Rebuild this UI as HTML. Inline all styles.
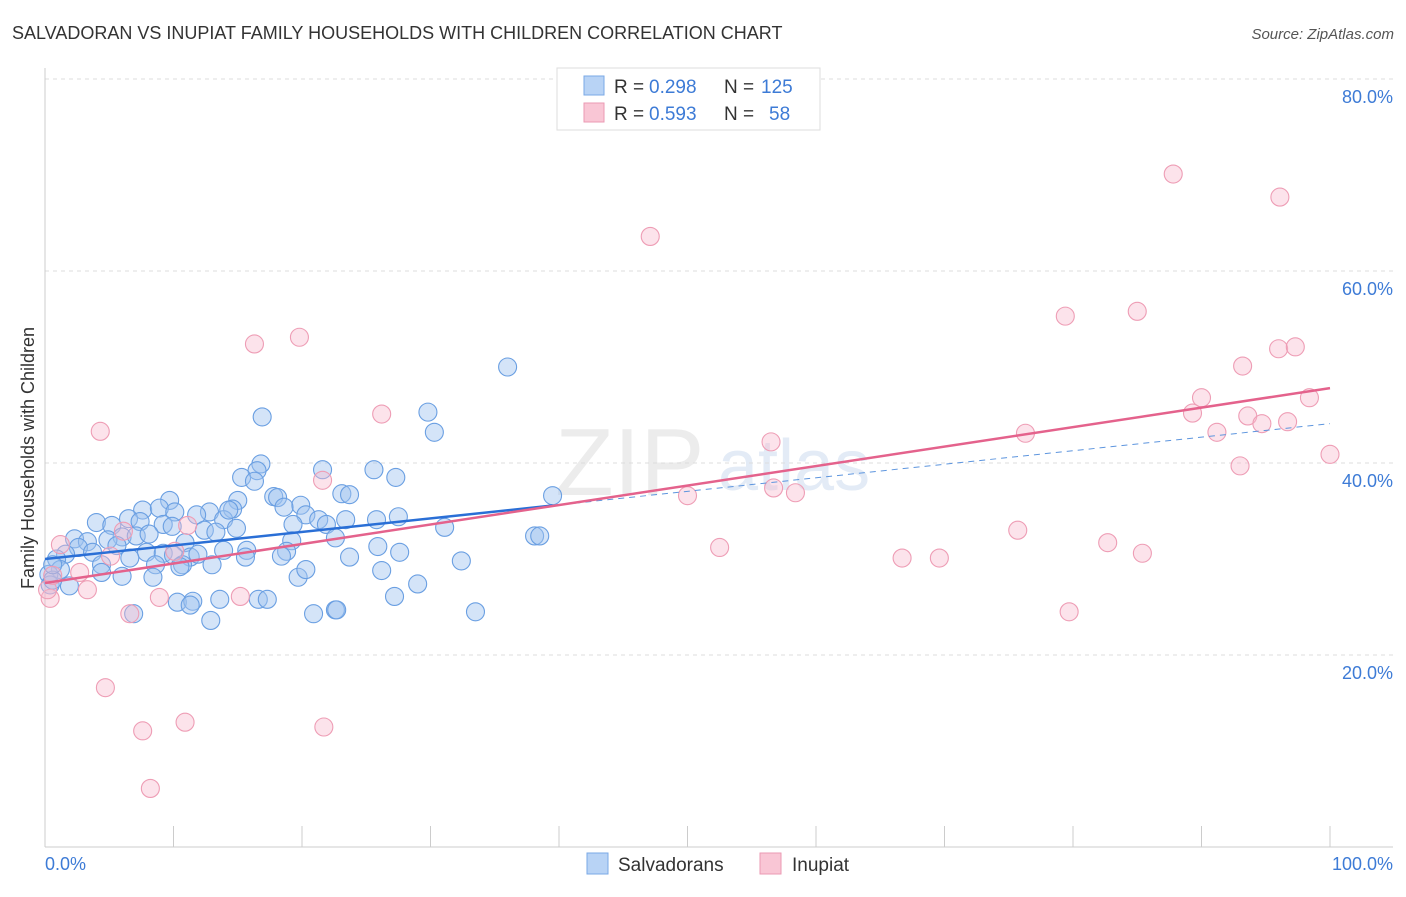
<!DOCTYPE html>
<html><head><meta charset="utf-8"><style>
body{margin:0;background:#fff;font-family:"Liberation Sans",sans-serif}
svg text{font-family:"Liberation Sans",sans-serif}
</style></head><body>
<svg id="chart" width="1406" height="892" viewBox="0 0 1406 892" xmlns="http://www.w3.org/2000/svg">
<text x="12" y="39" font-size="18" fill="#333">SALVADORAN VS INUPIAT FAMILY HOUSEHOLDS WITH CHILDREN CORRELATION CHART</text>
<text x="1394" y="39" font-size="15" fill="#555" font-style="italic" text-anchor="end">Source: ZipAtlas.com</text>
<text x="555" y="495" font-size="96" fill="#ececec" font-family="Liberation Serif">ZIP</text>
<text x="718" y="490" font-size="72" fill="#e3ebf6">atlas</text>
<g id="grid"></g>
<g id="axes"></g>
<g id="pts"></g>
<g id="trends"></g>
<text transform="translate(34,458) rotate(-90)" font-size="18" fill="#333" text-anchor="middle">Family Households with Children</text>
<text x="45" y="870" font-size="18" fill="#3d7bd6">0.0%</text>
<text x="1393" y="870" font-size="18" fill="#3d7bd6" text-anchor="end">100.0%</text>
<g>
<rect x="557" y="68" width="263" height="62" fill="#fff" stroke="#ddd"/>
<rect x="584" y="76" width="20" height="19" fill="#b8d3f5" stroke="#7aa8e6"/>
<rect x="584" y="103" width="20" height="19" fill="#f9c6d5" stroke="#eb9ab3"/>
<text x="614" y="93" font-size="19" fill="#333">R =</text>
<text x="649" y="93" font-size="19" fill="#3d7bd6">0.298</text>
<text x="724" y="93" font-size="19" fill="#333">N =</text>
<text x="761" y="93" font-size="19" fill="#3d7bd6">125</text>
<text x="614" y="120" font-size="19" fill="#333">R =</text>
<text x="649" y="120" font-size="19" fill="#3d7bd6">0.593</text>
<text x="724" y="120" font-size="19" fill="#333">N =</text>
<text x="769" y="120" font-size="19" fill="#3d7bd6">58</text>
</g>
<g>
<rect x="587" y="853" width="21" height="21" fill="#b8d3f5" stroke="#7aa8e6"/>
<text x="618" y="871" font-size="19" fill="#333">Salvadorans</text>
<rect x="760" y="853" width="21" height="21" fill="#f9c6d5" stroke="#eb9ab3"/>
<text x="792" y="871" font-size="19" fill="#333">Inupiat</text>
</g>
</svg>
<script>
const yTicks=[20,40,60,80];
const yTickLabels=["20.0%","40.0%","60.0%","80.0%"];
const xTicks=[0,10,20,30,40,50,60,70,80,90,100];
const blueX=[36.0,16.9,29.8,30.3,16.8,16.5,15.3,21.6,25.6,27.3,16.3,39.5,17.8,18.1,23.1,23.7,19.9,18.6,15.0,9.7,7.6,8.9,10.1,12.8,14.6,20.3,27.5,4.0,5.2,6.5,7.4,9.2,9.9,11.8,13.9,14.3,19.3,21.3,21.9,23.4,25.8,31.1,6.0,7.1,8.1,12.4,13.3,14.9,2.3,3.3,4.9,5.6,10.9,19.2,22.6,38.1,38.5,2.6,3.7,7.9,9.2,10.0,11.3,11.9,13.9,15.7,18.8,25.9,27.6,1.6,0.9,4.4,6.6,8.6,10.7,13.0,15.6,18.4,23.7,32.4,1.2,0.3,4.4,6.0,8.4,10.5,19.7,20.3,26.2,29.0,1.9,0.4,27.2,13.6,16.6,17.3,10.3,11.5,11.3,6.9,20.9,22.6,22.7,33.5,12.9,0.6,0.6];
const blueY=[50.0,44.8,45.3,43.2,39.9,39.2,38.5,39.3,39.3,38.5,38.1,36.6,36.5,36.4,36.8,36.7,35.6,35.4,36.1,36.1,35.1,35.3,34.9,34.9,35.2,34.6,34.4,33.8,33.5,34.2,33.9,33.6,33.4,34.6,34.1,35.1,33.6,34.1,33.6,34.1,34.1,33.3,32.3,32.4,32.6,33.0,32.8,33.2,32.1,31.8,32.0,31.4,31.7,31.9,32.2,32.4,32.4,31.2,30.7,30.7,30.6,30.4,30.2,30.5,30.9,30.9,30.8,31.3,30.7,30.5,30.0,29.4,30.1,29.4,29.4,29.4,30.2,30.3,30.2,29.8,28.9,28.4,28.6,28.2,28.1,29.2,28.1,28.9,28.8,27.4,27.2,27.3,26.1,25.8,25.8,25.8,25.5,25.6,25.2,24.3,24.3,24.7,24.7,24.5,23.6,27.8,29.4];
const pinkX=[87.8,96.1,47.1,16.3,19.8,79.4,85.0,96.0,97.3,93.2,90.0,89.3,98.4,26.2,4.3,93.6,94.7,96.7,91.2,76.3,56.5,100,93.0,21.6,56.7,58.4,50.0,75.7,6.1,11.1,82.7,52.5,85.4,66.7,69.6,1.2,10.1,5.1,2.7,3.3,8.9,15.2,6.6,79.7,0.4,4.7,7.6,10.9,21.7,8.2,0.2,0.6];
const pinkY=[70.1,67.7,63.6,52.4,53.1,55.3,55.8,51.9,52.1,50.1,46.8,45.2,46.8,45.1,43.3,44.9,44.1,44.3,43.2,43.1,42.2,40.9,39.7,38.2,37.4,36.9,36.6,33.0,32.9,33.5,31.7,31.2,30.6,30.1,30.1,31.5,30.8,30.3,28.6,26.8,26.0,26.1,24.3,24.5,25.9,16.6,12.1,13.0,12.5,6.1,26.8,28.3];
const blueTrend=[30.0,44.1];
const pinkTrend=[27.5,47.8];
const blueSolidEnd=39.5;

const NS="http://www.w3.org/2000/svg";
const xs=v=>45+v*12.85;
const ys=v=>847-v*9.6;
function mk(t,a,p){const e=document.createElementNS(NS,t);for(const k in a)e.setAttribute(k,a[k]);p.appendChild(e);return e;}
const grid=document.getElementById('grid'),axes=document.getElementById('axes'),pts=document.getElementById('pts'),tr=document.getElementById('trends');
yTicks.forEach((t,i)=>{
 const l=mk('line',{x1:45,x2:1393,y1:ys(t),y2:ys(t),stroke:'#ddd','stroke-dasharray':'4,4'},grid);
 
 
 const tx=mk('text',{x:1393,y:ys(t)+24,'font-size':18,fill:'#3d7bd6','text-anchor':'end'},grid);
 tx.textContent=yTickLabels[i];
 
 
});
const ax=mk('line',{x1:45,x2:1393,y1:847,y2:847,stroke:'#ccc'},axes);


const ay=mk('line',{x1:45,x2:45,y1:68,y2:847,stroke:'#ccc'},axes);


xTicks.forEach(t=>{
 const l=mk('line',{x1:xs(t),x2:xs(t),y1:826,y2:847,stroke:'#ccc'},axes);
 
 
});
blueX.forEach((x,i)=>{
 const c=mk('circle',{cx:xs(x),cy:ys(blueY[i]),r:9,fill:'rgba(160,196,240,0.45)',stroke:'#6a9fe2','stroke-width':1.1},pts);
 
 
});
pinkX.forEach((x,i)=>{
 const c=mk('circle',{cx:xs(x),cy:ys(pinkY[i]),r:9,fill:'rgba(247,185,205,0.4)',stroke:'#ee9db5','stroke-width':1.1},pts);
 
 
});
const bAt=x=>blueTrend[0]+(blueTrend[1]-blueTrend[0])*x/100;
const b1=mk('line',{x1:xs(0),y1:ys(bAt(0)),x2:xs(blueSolidEnd),y2:ys(bAt(blueSolidEnd)),stroke:'#2a6fd6','stroke-width':2.5},tr);


const b2=mk('line',{x1:xs(blueSolidEnd),y1:ys(bAt(blueSolidEnd)),x2:xs(100),y2:ys(bAt(100)),stroke:'#5d95de','stroke-width':1,'stroke-dasharray':'6,5'},tr);


const p1=mk('line',{x1:xs(0),y1:ys(pinkTrend[0]),x2:xs(100),y2:ys(pinkTrend[1]),stroke:'#e4628c','stroke-width':2.5},tr);


</script>
</body></html>
